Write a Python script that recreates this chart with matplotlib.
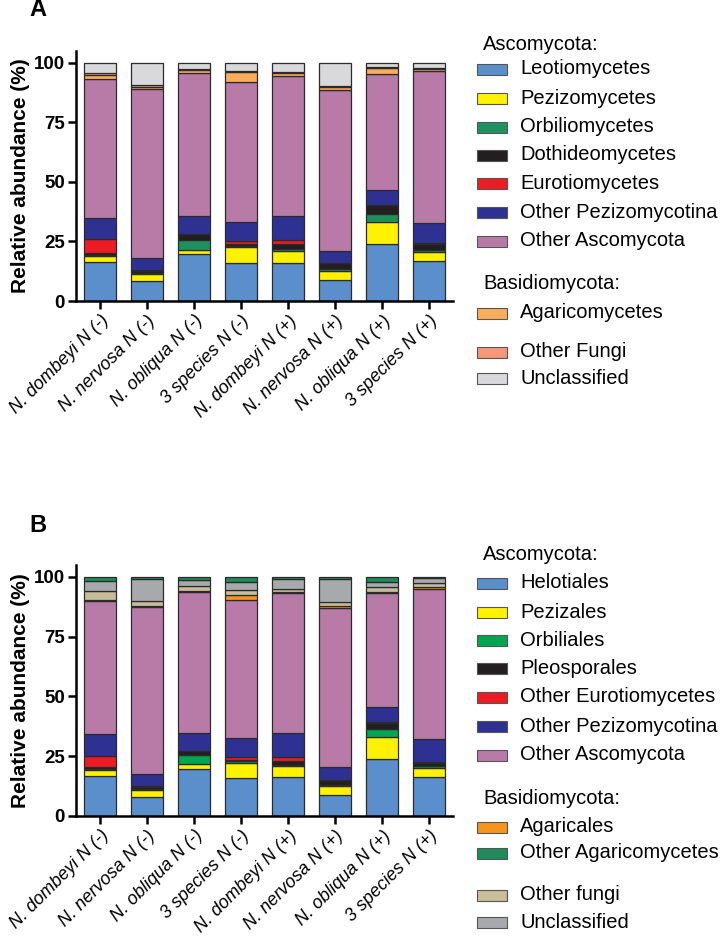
import matplotlib
matplotlib.use("Agg")
import matplotlib.pyplot as plt
from matplotlib.patches import Rectangle
import numpy as np

plt.rcParams['font.family'] = ['Liberation Sans', 'DejaVu Sans']

samples = ["N. dombeyi N (-)", "N. nervosa N (-)", "N. obliqua N (-)", "3 species N (-)",
           "N. dombeyi N (+)", "N. nervosa N (+)", "N. obliqua N (+)", "3 species N (+)"]

# panel A: classes (bottom to top)
leotiomycetes   = [16.5, 8.4, 19.8, 15.8, 15.8, 8.8, 24.0, 16.8]
pezizomycetes   = [2.4, 2.8, 1.7, 6.8, 5.4, 4.0, 9.0, 3.9]
orbiliomycetes  = [0.6, 0.5, 4.2, 0.6, 0.6, 0.5, 3.6, 0.7]
dothideomycetes = [0.7, 1.0, 2.3, 0.6, 2.2, 2.5, 3.8, 2.5]
eurotiomycetes  = [5.8, 0.2, 0.2, 1.4, 1.7, 0.1, 0.1, 0.6]
other_pezizo_a  = [8.9, 5.3, 7.3, 7.8, 10.1, 5.3, 6.2, 8.4]
other_asco_a    = [58.2, 70.9, 60.3, 59.0, 58.9, 67.3, 48.8, 63.7]
agaricomycetes  = [1.9, 0.9, 1.4, 4.1, 0.9, 1.5, 2.4, 1.0]
other_fungi_a   = [0.6, 0.6, 0.3, 0.4, 0.4, 0.5, 0.4, 0.4]
unclassified_a  = [4.4, 9.4, 2.5, 3.5, 4.0, 9.5, 1.7, 2.0]

# panel B: orders (bottom to top)
helotiales      = [16.8, 7.8, 19.8, 15.8, 16.2, 8.6, 24.0, 16.2]
pezizales       = [2.5, 3.1, 2.0, 6.5, 4.7, 4.0, 8.9, 4.0]
orbiliales      = [0.5, 0.3, 3.6, 0.6, 0.6, 0.5, 3.6, 0.7]
pleosporales    = [0.6, 1.1, 1.8, 0.6, 1.5, 2.0, 2.6, 1.1]
other_euro      = [4.9, 0.1, 0.2, 1.2, 1.8, 0.1, 0.1, 0.4]
other_pezizo_b  = [8.8, 5.2, 7.2, 7.8, 10.1, 5.2, 6.4, 9.7]
other_asco_b    = [56.0, 69.8, 59.3, 57.7, 58.3, 66.8, 47.6, 62.9]
agaricales      = [0.2, 0.6, 0.2, 2.3, 0.5, 0.7, 0.4, 1.0]
other_fungi_b   = [3.7, 1.9, 2.0, 2.1, 1.1, 1.8, 2.4, 1.3]
unclassified_b  = [4.3, 9.3, 2.8, 3.3, 4.2, 9.6, 1.9, 2.1]
other_agarico   = [1.7, 0.8, 1.1, 2.1, 1.0, 0.7, 2.1, 0.6]

BLUE = "#5b8fcc"; YELLOW = "#fff200"; BLACK = "#231f20"; RED = "#ed1c24"
NAVY = "#2e3192"; MAUVE = "#b87aa7"

series_a = [
    ("Leotiomycetes", leotiomycetes, BLUE),
    ("Pezizomycetes", pezizomycetes, YELLOW),
    ("Orbiliomycetes", orbiliomycetes, "#1f9160"),
    ("Dothideomycetes", dothideomycetes, BLACK),
    ("Eurotiomycetes", eurotiomycetes, RED),
    ("Other Pezizomycotina", other_pezizo_a, NAVY),
    ("Other Ascomycota", other_asco_a, MAUVE),
    ("Agaricomycetes", agaricomycetes, "#fbad5b"),
    ("Other Fungi", other_fungi_a, "#f4977a"),
    ("Unclassified", unclassified_a, "#d9d9db"),
]
series_b = [
    ("Helotiales", helotiales, BLUE),
    ("Pezizales", pezizales, YELLOW),
    ("Orbiliales", orbiliales, "#00a651"),
    ("Pleosporales", pleosporales, BLACK),
    ("Other Eurotiomycetes", other_euro, RED),
    ("Other Pezizomycotina", other_pezizo_b, NAVY),
    ("Other Ascomycota", other_asco_b, MAUVE),
    ("Agaricales", agaricales, "#f7941d"),
    ("Other fungi", other_fungi_b, "#c8bd9a"),
    ("Unclassified", unclassified_b, "#a7a9ac"),
    ("Other Agaricomycetes", other_agarico, "#1f8a5a"),
]

W, H = 722, 942
fig = plt.figure(figsize=(W / 100, H / 100), dpi=100)


def draw_panel(ax, series):
    x = np.arange(len(samples))
    bottom = np.zeros(len(samples))
    for name, vals, col in series:
        ax.bar(x, vals, 0.68, bottom=bottom, color=col, edgecolor="#2b2b2b", linewidth=0.9)
        bottom += np.array(vals)
    ax.set_xlim(-0.51, 7.51)
    ax.set_ylim(0, 105)
    ax.set_yticks([0, 25, 50, 75, 100])
    ax.set_yticklabels(["0", "25", "50", "75", "100"], fontweight="bold", fontsize=13.5)
    ax.set_xticks(x)
    ax.set_xticklabels(samples, rotation=45, ha="right", rotation_mode="anchor",
                       fontstyle="italic", fontsize=13)
    ax.spines["top"].set_visible(False)
    ax.spines["right"].set_visible(False)
    ax.spines["left"].set_linewidth(1.8)
    ax.spines["bottom"].set_linewidth(1.8)
    ax.tick_params(width=1.8, length=6, pad=2)
    ax.set_ylabel("Relative abundance (%)", fontweight="bold", fontsize=15, labelpad=3)


def px(x, y):
    return x / W, 1 - y / H


def legend(entries):
    # entries: (kind, text, color, y)
    for kind, text, col, y in entries:
        if kind == "h":
            fig.text(*px(483, y), text, fontsize=14.5, va="center", ha="left")
        else:
            fx, fy = px(477, y + 5.5)
            fig.add_artist(Rectangle((fx, fy), 30 / W, 11 / H, transform=fig.transFigure,
                                     facecolor=col, edgecolor="#555555", linewidth=0.8))
            fig.text(*px(520, y), text, fontsize=14.5, va="center", ha="left")


axA = fig.add_axes([76 / W, 1 - 301 / H, 377 / W, 250 / H])
draw_panel(axA, series_a)
axB = fig.add_axes([76 / W, 1 - 816 / H, 377 / W, 251 / H])
draw_panel(axB, series_b)

fig.text(*px(38, 10), "A", fontsize=17, fontweight="bold", ha="center", va="center")
fig.text(*px(38, 525), "B", fontsize=17, fontweight="bold", ha="center", va="center")

ya = [69, 98, 127, 155, 183, 212, 241]
leg_a = [("h", "Ascomycota:", None, 44)]
leg_a += [("p", n, c, y) for (n, v, c), y in zip(series_a[:7], ya)]
leg_a += [("h", "Basidiomycota:", None, 284),
          ("p", series_a[7][0], series_a[7][2], 313),
          ("p", series_a[8][0], series_a[8][2], 352),
          ("p", series_a[9][0], series_a[9][2], 378)]
legend(leg_a)

yb = [583, 612, 640, 668, 697, 726, 755]
leg_b = [("h", "Ascomycota:", None, 555)]
leg_b += [("p", n, c, y) for (n, v, c), y in zip(series_b[:7], yb)]
leg_b += [("h", "Basidiomycota:", None, 798),
          ("p", series_b[7][0], series_b[7][2], 827),
          ("p", series_b[10][0], series_b[10][2], 853),
          ("p", series_b[8][0], series_b[8][2], 895),
          ("p", series_b[9][0], series_b[9][2], 922)]
legend(leg_b)

fig.savefig("out.png", dpi=100)
